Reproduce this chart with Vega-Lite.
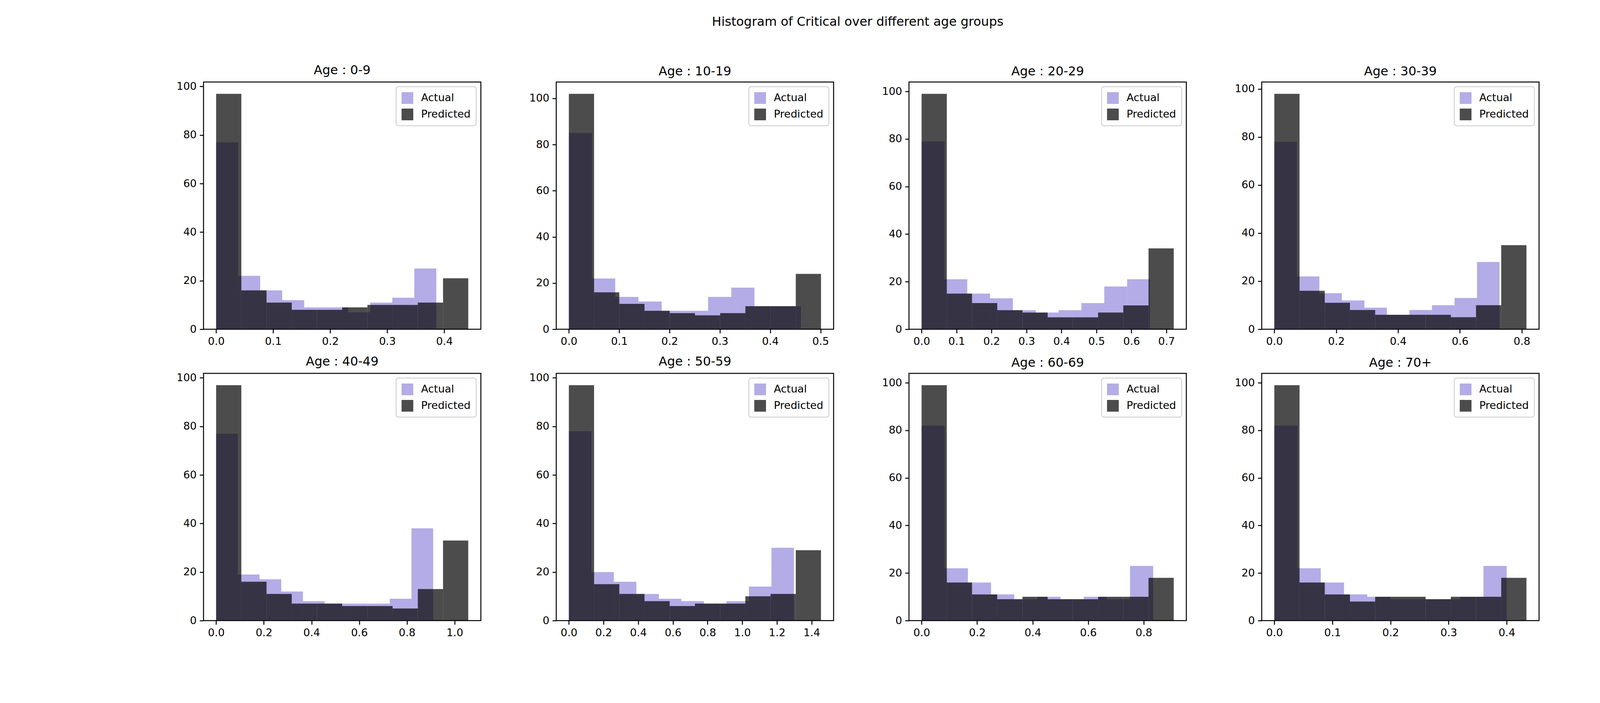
{
  "$schema": "https://vega.github.io/schema/vega-lite/v6.json",
  "title": {"text": "Histogram of Critical over different age groups", "fontSize": 32, "fontWeight": "normal", "font": "DejaVu Sans", "color": "black", "anchor": "middle", "offset": 90},
  "padding": {"left": 450, "top": 40, "right": 20, "bottom": 20},
  "background": "white",
  "data": {"values": [
    {"g":"0-9","s":"Actual","a":0,"b":0.0386,"n":77},{"g":"0-9","s":"Actual","a":0.0386,"b":0.0772,"n":22},{"g":"0-9","s":"Actual","a":0.0772,"b":0.1158,"n":16},{"g":"0-9","s":"Actual","a":0.1158,"b":0.1544,"n":12},{"g":"0-9","s":"Actual","a":0.1544,"b":0.193,"n":9},{"g":"0-9","s":"Actual","a":0.193,"b":0.2316,"n":9},{"g":"0-9","s":"Actual","a":0.2316,"b":0.2702,"n":7},{"g":"0-9","s":"Actual","a":0.2702,"b":0.3088,"n":11},{"g":"0-9","s":"Actual","a":0.3088,"b":0.3474,"n":13},{"g":"0-9","s":"Actual","a":0.3474,"b":0.386,"n":25},
    {"g":"0-9","s":"Predicted","a":0,"b":0.0442,"n":97},{"g":"0-9","s":"Predicted","a":0.0442,"b":0.0884,"n":16},{"g":"0-9","s":"Predicted","a":0.0884,"b":0.1326,"n":11},{"g":"0-9","s":"Predicted","a":0.1326,"b":0.1768,"n":8},{"g":"0-9","s":"Predicted","a":0.1768,"b":0.221,"n":8},{"g":"0-9","s":"Predicted","a":0.221,"b":0.2652,"n":9},{"g":"0-9","s":"Predicted","a":0.2652,"b":0.3094,"n":10},{"g":"0-9","s":"Predicted","a":0.3094,"b":0.3536,"n":10},{"g":"0-9","s":"Predicted","a":0.3536,"b":0.3978,"n":11},{"g":"0-9","s":"Predicted","a":0.3978,"b":0.442,"n":21},
    {"g":"10-19","s":"Actual","a":0,"b":0.0461,"n":85},{"g":"10-19","s":"Actual","a":0.0461,"b":0.0922,"n":22},{"g":"10-19","s":"Actual","a":0.0922,"b":0.1383,"n":14},{"g":"10-19","s":"Actual","a":0.1383,"b":0.1844,"n":12},{"g":"10-19","s":"Actual","a":0.1844,"b":0.2305,"n":8},{"g":"10-19","s":"Actual","a":0.2305,"b":0.2766,"n":8},{"g":"10-19","s":"Actual","a":0.2766,"b":0.3227,"n":14},{"g":"10-19","s":"Actual","a":0.3227,"b":0.3688,"n":18},{"g":"10-19","s":"Actual","a":0.3688,"b":0.4149,"n":10},{"g":"10-19","s":"Actual","a":0.4149,"b":0.461,"n":10},
    {"g":"10-19","s":"Predicted","a":0,"b":0.0501,"n":102},{"g":"10-19","s":"Predicted","a":0.0501,"b":0.1002,"n":16},{"g":"10-19","s":"Predicted","a":0.1002,"b":0.1503,"n":11},{"g":"10-19","s":"Predicted","a":0.1503,"b":0.2004,"n":8},{"g":"10-19","s":"Predicted","a":0.2004,"b":0.2505,"n":7},{"g":"10-19","s":"Predicted","a":0.2505,"b":0.3006,"n":6},{"g":"10-19","s":"Predicted","a":0.3006,"b":0.3507,"n":7},{"g":"10-19","s":"Predicted","a":0.3507,"b":0.4008,"n":10},{"g":"10-19","s":"Predicted","a":0.4008,"b":0.4509,"n":10},{"g":"10-19","s":"Predicted","a":0.4509,"b":0.501,"n":24},
    {"g":"20-29","s":"Actual","a":0,"b":0.0653,"n":79},{"g":"20-29","s":"Actual","a":0.0653,"b":0.1306,"n":21},{"g":"20-29","s":"Actual","a":0.1306,"b":0.1959,"n":15},{"g":"20-29","s":"Actual","a":0.1959,"b":0.2612,"n":13},{"g":"20-29","s":"Actual","a":0.2612,"b":0.3265,"n":8},{"g":"20-29","s":"Actual","a":0.3265,"b":0.3918,"n":7},{"g":"20-29","s":"Actual","a":0.3918,"b":0.4571,"n":8},{"g":"20-29","s":"Actual","a":0.4571,"b":0.5224,"n":11},{"g":"20-29","s":"Actual","a":0.5224,"b":0.5877,"n":18},{"g":"20-29","s":"Actual","a":0.5877,"b":0.653,"n":21},
    {"g":"20-29","s":"Predicted","a":0,"b":0.0721,"n":99},{"g":"20-29","s":"Predicted","a":0.0721,"b":0.1442,"n":15},{"g":"20-29","s":"Predicted","a":0.1442,"b":0.2163,"n":11},{"g":"20-29","s":"Predicted","a":0.2163,"b":0.2884,"n":8},{"g":"20-29","s":"Predicted","a":0.2884,"b":0.3605,"n":7},{"g":"20-29","s":"Predicted","a":0.3605,"b":0.4326,"n":5},{"g":"20-29","s":"Predicted","a":0.4326,"b":0.5047,"n":5},{"g":"20-29","s":"Predicted","a":0.5047,"b":0.5768,"n":7},{"g":"20-29","s":"Predicted","a":0.5768,"b":0.6489,"n":10},{"g":"20-29","s":"Predicted","a":0.6489,"b":0.721,"n":34},
    {"g":"30-39","s":"Actual","a":0,"b":0.0728,"n":78},{"g":"30-39","s":"Actual","a":0.0728,"b":0.1456,"n":22},{"g":"30-39","s":"Actual","a":0.1456,"b":0.2184,"n":15},{"g":"30-39","s":"Actual","a":0.2184,"b":0.2912,"n":12},{"g":"30-39","s":"Actual","a":0.2912,"b":0.364,"n":9},{"g":"30-39","s":"Actual","a":0.364,"b":0.4368,"n":6},{"g":"30-39","s":"Actual","a":0.4368,"b":0.5096,"n":8},{"g":"30-39","s":"Actual","a":0.5096,"b":0.5824,"n":10},{"g":"30-39","s":"Actual","a":0.5824,"b":0.6552,"n":13},{"g":"30-39","s":"Actual","a":0.6552,"b":0.728,"n":28},
    {"g":"30-39","s":"Predicted","a":0,"b":0.0815,"n":98},{"g":"30-39","s":"Predicted","a":0.0815,"b":0.163,"n":16},{"g":"30-39","s":"Predicted","a":0.163,"b":0.2445,"n":11},{"g":"30-39","s":"Predicted","a":0.2445,"b":0.326,"n":8},{"g":"30-39","s":"Predicted","a":0.326,"b":0.4075,"n":6},{"g":"30-39","s":"Predicted","a":0.4075,"b":0.489,"n":6},{"g":"30-39","s":"Predicted","a":0.489,"b":0.5705,"n":6},{"g":"30-39","s":"Predicted","a":0.5705,"b":0.652,"n":5},{"g":"30-39","s":"Predicted","a":0.652,"b":0.7335,"n":10},{"g":"30-39","s":"Predicted","a":0.7335,"b":0.815,"n":35},
    {"g":"40-49","s":"Actual","a":0,"b":0.091,"n":77},{"g":"40-49","s":"Actual","a":0.091,"b":0.182,"n":19},{"g":"40-49","s":"Actual","a":0.182,"b":0.273,"n":17},{"g":"40-49","s":"Actual","a":0.273,"b":0.364,"n":12},{"g":"40-49","s":"Actual","a":0.364,"b":0.455,"n":8},{"g":"40-49","s":"Actual","a":0.455,"b":0.546,"n":7},{"g":"40-49","s":"Actual","a":0.546,"b":0.637,"n":7},{"g":"40-49","s":"Actual","a":0.637,"b":0.728,"n":7},{"g":"40-49","s":"Actual","a":0.728,"b":0.819,"n":9},{"g":"40-49","s":"Actual","a":0.819,"b":0.91,"n":38},
    {"g":"40-49","s":"Predicted","a":0,"b":0.1057,"n":97},{"g":"40-49","s":"Predicted","a":0.1057,"b":0.2114,"n":16},{"g":"40-49","s":"Predicted","a":0.2114,"b":0.3171,"n":11},{"g":"40-49","s":"Predicted","a":0.3171,"b":0.4228,"n":7},{"g":"40-49","s":"Predicted","a":0.4228,"b":0.5285,"n":7},{"g":"40-49","s":"Predicted","a":0.5285,"b":0.6342,"n":6},{"g":"40-49","s":"Predicted","a":0.6342,"b":0.7399,"n":6},{"g":"40-49","s":"Predicted","a":0.7399,"b":0.8456,"n":5},{"g":"40-49","s":"Predicted","a":0.8456,"b":0.9513,"n":13},{"g":"40-49","s":"Predicted","a":0.9513,"b":1.057,"n":33},
    {"g":"50-59","s":"Actual","a":0,"b":0.1298,"n":78},{"g":"50-59","s":"Actual","a":0.1298,"b":0.2596,"n":20},{"g":"50-59","s":"Actual","a":0.2596,"b":0.3894,"n":16},{"g":"50-59","s":"Actual","a":0.3894,"b":0.5192,"n":11},{"g":"50-59","s":"Actual","a":0.5192,"b":0.649,"n":9},{"g":"50-59","s":"Actual","a":0.649,"b":0.7788,"n":8},{"g":"50-59","s":"Actual","a":0.7788,"b":0.9086,"n":7},{"g":"50-59","s":"Actual","a":0.9086,"b":1.0384,"n":8},{"g":"50-59","s":"Actual","a":1.0384,"b":1.1682,"n":14},{"g":"50-59","s":"Actual","a":1.1682,"b":1.298,"n":30},
    {"g":"50-59","s":"Predicted","a":0,"b":0.1454,"n":97},{"g":"50-59","s":"Predicted","a":0.1454,"b":0.2908,"n":15},{"g":"50-59","s":"Predicted","a":0.2908,"b":0.4362,"n":11},{"g":"50-59","s":"Predicted","a":0.4362,"b":0.5816,"n":8},{"g":"50-59","s":"Predicted","a":0.5816,"b":0.727,"n":6},{"g":"50-59","s":"Predicted","a":0.727,"b":0.8724,"n":7},{"g":"50-59","s":"Predicted","a":0.8724,"b":1.0178,"n":7},{"g":"50-59","s":"Predicted","a":1.0178,"b":1.1632,"n":10},{"g":"50-59","s":"Predicted","a":1.1632,"b":1.3086,"n":11},{"g":"50-59","s":"Predicted","a":1.3086,"b":1.454,"n":29},
    {"g":"60-69","s":"Actual","a":0,"b":0.0834,"n":82},{"g":"60-69","s":"Actual","a":0.0834,"b":0.1668,"n":22},{"g":"60-69","s":"Actual","a":0.1668,"b":0.2502,"n":16},{"g":"60-69","s":"Actual","a":0.2502,"b":0.3336,"n":11},{"g":"60-69","s":"Actual","a":0.3336,"b":0.417,"n":9},{"g":"60-69","s":"Actual","a":0.417,"b":0.5004,"n":10},{"g":"60-69","s":"Actual","a":0.5004,"b":0.5838,"n":9},{"g":"60-69","s":"Actual","a":0.5838,"b":0.6672,"n":10},{"g":"60-69","s":"Actual","a":0.6672,"b":0.7506,"n":9},{"g":"60-69","s":"Actual","a":0.7506,"b":0.834,"n":23},
    {"g":"60-69","s":"Predicted","a":0,"b":0.0908,"n":99},{"g":"60-69","s":"Predicted","a":0.0908,"b":0.1816,"n":16},{"g":"60-69","s":"Predicted","a":0.1816,"b":0.2724,"n":11},{"g":"60-69","s":"Predicted","a":0.2724,"b":0.3632,"n":9},{"g":"60-69","s":"Predicted","a":0.3632,"b":0.454,"n":10},{"g":"60-69","s":"Predicted","a":0.454,"b":0.5448,"n":9},{"g":"60-69","s":"Predicted","a":0.5448,"b":0.6356,"n":9},{"g":"60-69","s":"Predicted","a":0.6356,"b":0.7264,"n":10},{"g":"60-69","s":"Predicted","a":0.7264,"b":0.8172,"n":10},{"g":"60-69","s":"Predicted","a":0.8172,"b":0.908,"n":18},
    {"g":"70+","s":"Actual","a":0,"b":0.04,"n":82},{"g":"70+","s":"Actual","a":0.04,"b":0.08,"n":22},{"g":"70+","s":"Actual","a":0.08,"b":0.12,"n":16},{"g":"70+","s":"Actual","a":0.12,"b":0.16,"n":11},{"g":"70+","s":"Actual","a":0.16,"b":0.2,"n":10},{"g":"70+","s":"Actual","a":0.2,"b":0.24,"n":9},{"g":"70+","s":"Actual","a":0.24,"b":0.28,"n":9},{"g":"70+","s":"Actual","a":0.28,"b":0.32,"n":9},{"g":"70+","s":"Actual","a":0.32,"b":0.36,"n":10},{"g":"70+","s":"Actual","a":0.36,"b":0.4,"n":23},
    {"g":"70+","s":"Predicted","a":0,"b":0.0434,"n":99},{"g":"70+","s":"Predicted","a":0.0434,"b":0.0868,"n":16},{"g":"70+","s":"Predicted","a":0.0868,"b":0.1302,"n":11},{"g":"70+","s":"Predicted","a":0.1302,"b":0.1736,"n":8},{"g":"70+","s":"Predicted","a":0.1736,"b":0.217,"n":10},{"g":"70+","s":"Predicted","a":0.217,"b":0.2604,"n":10},{"g":"70+","s":"Predicted","a":0.2604,"b":0.3038,"n":9},{"g":"70+","s":"Predicted","a":0.3038,"b":0.3472,"n":10},{"g":"70+","s":"Predicted","a":0.3472,"b":0.3906,"n":10},{"g":"70+","s":"Predicted","a":0.3906,"b":0.434,"n":18}
  ]},
  "columns": 4,
  "spacing": {"column": 120, "row": 20},
  "resolve": {"scale": {"x": "independent", "y": "independent", "color": "independent", "opacity": "independent"}, "legend": {"color": "independent", "opacity": "independent"}},
  "concat": [
    {"title": "Age : 0-9", "width": 710, "height": 633, "transform": [{"filter": "datum.g === '0-9'"}], "mark": "bar",
     "encoding": {
       "x": {"field": "a", "type": "quantitative", "title": null, "scale": {"domain": [-0.0221, 0.4641], "nice": false, "zero": false}, "axis": {"values": [0, 0.1, 0.2, 0.3, 0.4], "format": ".1f"}},
       "x2": {"field": "b"},
       "y": {"field": "n", "type": "quantitative", "title": null, "scale": {"domain": [0, 101.85], "nice": false}, "axis": {"values": [0, 20, 40, 60, 80, 100]}},
       "y2": {"datum": 0},
       "color": {"field": "s", "type": "nominal", "title": null, "scale": {"domain": ["Actual", "Predicted"], "range": ["#6a5acd", "#000000"]}},
       "opacity": {"field": "s", "type": "nominal", "title": null, "scale": {"domain": ["Actual", "Predicted"], "range": [0.5, 0.7]}}}},
    {"title": "Age : 10-19", "width": 710, "height": 633, "transform": [{"filter": "datum.g === '10-19'"}], "mark": "bar",
     "encoding": {
       "x": {"field": "a", "type": "quantitative", "title": null, "scale": {"domain": [-0.02505, 0.526], "nice": false, "zero": false}, "axis": {"values": [0, 0.1, 0.2, 0.3, 0.4, 0.5], "format": ".1f"}},
       "x2": {"field": "b"},
       "y": {"field": "n", "type": "quantitative", "title": null, "scale": {"domain": [0, 107.1], "nice": false}, "axis": {"values": [0, 20, 40, 60, 80, 100]}},
       "y2": {"datum": 0},
       "color": {"field": "s", "type": "nominal", "title": null, "scale": {"domain": ["Actual", "Predicted"], "range": ["#6a5acd", "#000000"]}},
       "opacity": {"field": "s", "type": "nominal", "title": null, "scale": {"domain": ["Actual", "Predicted"], "range": [0.5, 0.7]}}}},
    {"title": "Age : 20-29", "width": 710, "height": 633, "transform": [{"filter": "datum.g === '20-29'"}], "mark": "bar",
     "encoding": {
       "x": {"field": "a", "type": "quantitative", "title": null, "scale": {"domain": [-0.03605, 0.757], "nice": false, "zero": false}, "axis": {"values": [0, 0.1, 0.2, 0.3, 0.4, 0.5, 0.6, 0.7], "format": ".1f"}},
       "x2": {"field": "b"},
       "y": {"field": "n", "type": "quantitative", "title": null, "scale": {"domain": [0, 103.95], "nice": false}, "axis": {"values": [0, 20, 40, 60, 80, 100]}},
       "y2": {"datum": 0},
       "color": {"field": "s", "type": "nominal", "title": null, "scale": {"domain": ["Actual", "Predicted"], "range": ["#6a5acd", "#000000"]}},
       "opacity": {"field": "s", "type": "nominal", "title": null, "scale": {"domain": ["Actual", "Predicted"], "range": [0.5, 0.7]}}}},
    {"title": "Age : 30-39", "width": 710, "height": 633, "transform": [{"filter": "datum.g === '30-39'"}], "mark": "bar",
     "encoding": {
       "x": {"field": "a", "type": "quantitative", "title": null, "scale": {"domain": [-0.04075, 0.8558], "nice": false, "zero": false}, "axis": {"values": [0, 0.2, 0.4, 0.6, 0.8], "format": ".1f"}},
       "x2": {"field": "b"},
       "y": {"field": "n", "type": "quantitative", "title": null, "scale": {"domain": [0, 102.9], "nice": false}, "axis": {"values": [0, 20, 40, 60, 80, 100]}},
       "y2": {"datum": 0},
       "color": {"field": "s", "type": "nominal", "title": null, "scale": {"domain": ["Actual", "Predicted"], "range": ["#6a5acd", "#000000"]}},
       "opacity": {"field": "s", "type": "nominal", "title": null, "scale": {"domain": ["Actual", "Predicted"], "range": [0.5, 0.7]}}}},
    {"title": "Age : 40-49", "width": 710, "height": 633, "transform": [{"filter": "datum.g === '40-49'"}], "mark": "bar",
     "encoding": {
       "x": {"field": "a", "type": "quantitative", "title": null, "scale": {"domain": [-0.05285, 1.1099], "nice": false, "zero": false}, "axis": {"values": [0, 0.2, 0.4, 0.6, 0.8, 1.0], "format": ".1f"}},
       "x2": {"field": "b"},
       "y": {"field": "n", "type": "quantitative", "title": null, "scale": {"domain": [0, 101.85], "nice": false}, "axis": {"values": [0, 20, 40, 60, 80, 100]}},
       "y2": {"datum": 0},
       "color": {"field": "s", "type": "nominal", "title": null, "scale": {"domain": ["Actual", "Predicted"], "range": ["#6a5acd", "#000000"]}},
       "opacity": {"field": "s", "type": "nominal", "title": null, "scale": {"domain": ["Actual", "Predicted"], "range": [0.5, 0.7]}}}},
    {"title": "Age : 50-59", "width": 710, "height": 633, "transform": [{"filter": "datum.g === '50-59'"}], "mark": "bar",
     "encoding": {
       "x": {"field": "a", "type": "quantitative", "title": null, "scale": {"domain": [-0.0727, 1.5267], "nice": false, "zero": false}, "axis": {"values": [0, 0.2, 0.4, 0.6, 0.8, 1.0, 1.2, 1.4], "format": ".1f"}},
       "x2": {"field": "b"},
       "y": {"field": "n", "type": "quantitative", "title": null, "scale": {"domain": [0, 101.85], "nice": false}, "axis": {"values": [0, 20, 40, 60, 80, 100]}},
       "y2": {"datum": 0},
       "color": {"field": "s", "type": "nominal", "title": null, "scale": {"domain": ["Actual", "Predicted"], "range": ["#6a5acd", "#000000"]}},
       "opacity": {"field": "s", "type": "nominal", "title": null, "scale": {"domain": ["Actual", "Predicted"], "range": [0.5, 0.7]}}}},
    {"title": "Age : 60-69", "width": 710, "height": 633, "transform": [{"filter": "datum.g === '60-69'"}], "mark": "bar",
     "encoding": {
       "x": {"field": "a", "type": "quantitative", "title": null, "scale": {"domain": [-0.0454, 0.9534], "nice": false, "zero": false}, "axis": {"values": [0, 0.2, 0.4, 0.6, 0.8], "format": ".1f"}},
       "x2": {"field": "b"},
       "y": {"field": "n", "type": "quantitative", "title": null, "scale": {"domain": [0, 103.95], "nice": false}, "axis": {"values": [0, 20, 40, 60, 80, 100]}},
       "y2": {"datum": 0},
       "color": {"field": "s", "type": "nominal", "title": null, "scale": {"domain": ["Actual", "Predicted"], "range": ["#6a5acd", "#000000"]}},
       "opacity": {"field": "s", "type": "nominal", "title": null, "scale": {"domain": ["Actual", "Predicted"], "range": [0.5, 0.7]}}}},
    {"title": "Age : 70+", "width": 710, "height": 633, "transform": [{"filter": "datum.g === '70+'"}], "mark": "bar",
     "encoding": {
       "x": {"field": "a", "type": "quantitative", "title": null, "scale": {"domain": [-0.0217, 0.4557], "nice": false, "zero": false}, "axis": {"values": [0, 0.1, 0.2, 0.3, 0.4], "format": ".1f"}},
       "x2": {"field": "b"},
       "y": {"field": "n", "type": "quantitative", "title": null, "scale": {"domain": [0, 103.95], "nice": false}, "axis": {"values": [0, 20, 40, 60, 80, 100]}},
       "y2": {"datum": 0},
       "color": {"field": "s", "type": "nominal", "title": null, "scale": {"domain": ["Actual", "Predicted"], "range": ["#6a5acd", "#000000"]}},
       "opacity": {"field": "s", "type": "nominal", "title": null, "scale": {"domain": ["Actual", "Predicted"], "range": [0.5, 0.7]}}}}
  ],
  "config": {
    "font": "DejaVu Sans",
    "view": {"stroke": "black", "strokeWidth": 2.5},
    "bar": {"binSpacing": 0, "strokeWidth": 0},
    "title": {"fontSize": 32, "fontWeight": "normal", "color": "black", "offset": 10},
    "axis": {"grid": false, "domain": false, "tickColor": "black", "tickWidth": 2.5, "tickSize": 10, "labelFontSize": 27, "labelColor": "black", "labelPadding": 8},
    "legend": {"orient": "top-right", "offset": 12, "labelFontSize": 27, "symbolType": "square", "symbolSize": 900, "symbolStrokeWidth": 0, "fillColor": "white", "strokeColor": "#d4d4d4", "strokeWidth": 2.5, "cornerRadius": 6, "padding": 14, "rowPadding": 12, "labelOffset": 20}
  }
}
